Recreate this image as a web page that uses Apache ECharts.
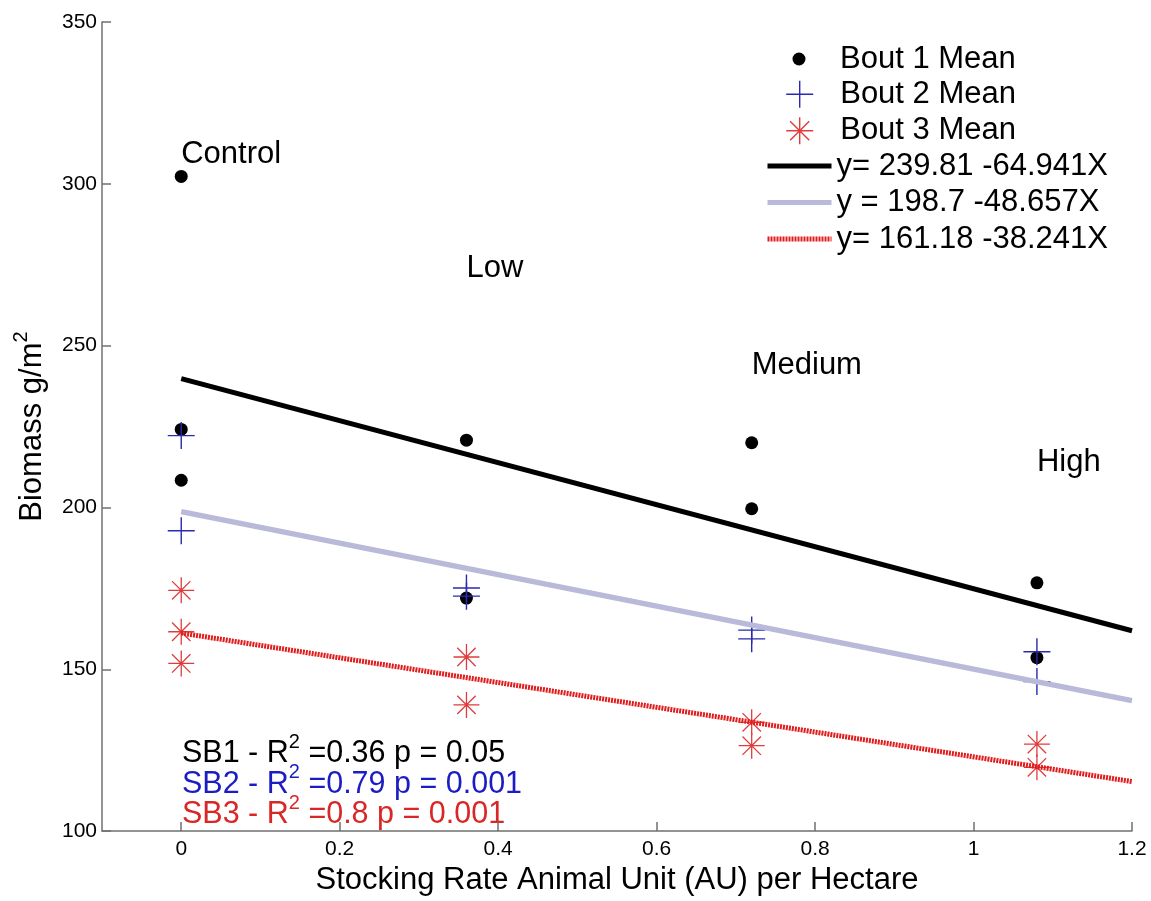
<!DOCTYPE html>
<html>
<head>
<meta charset="utf-8">
<title>Biomass vs stocking rate</title>
<script src="https://cdn.jsdelivr.net/npm/echarts@6/dist/echarts.min.js"></script>
<style>
  html, body { margin: 0; padding: 0; background: #fff; }
  #chart { width: 1151px; height: 901px; }
</style>
</head>
<body>
<div id="chart"></div>
<script>
  // group labels (stocking rate, label height)
  var groupNames = ['Control', 'Low', 'Medium', 'High']
  var groupRates = [0, 0.36, 0.72, 1.08]
  var groupLabelY = [309, 274, 244, 214]

  // bout means [stocking rate, biomass]
  var bout1Mean = [[0, 302.3], [0, 224.1], [0, 208.4], [0.36, 220.8], [0.36, 172], [0.72, 220], [0.72, 199.6], [1.08, 176.7], [1.08, 153.6]]
  var bout2Mean = [[0, 222.2], [0, 192.8], [0.36, 175.1], [0.36, 172.6], [0.72, 162.1], [0.72, 159.4], [1.08, 155.4], [1.08, 146.2]]
  var bout3Mean = [[0, 174.4], [0, 161.6], [0, 151.8], [0.36, 153.8], [0.36, 139], [0.72, 133.6], [0.72, 126.4], [1.08, 126.9], [1.08, 119.7]]

  // fitted lines, end points
  var fitX = [0, 1.2]
  var fit1Y = [239.8, 161.9]
  var fit2Y = [198.7, 140.3]
  var fit3Y = [161.2, 115.3]
  var fitNames = ['y= 239.81 -64.941X', 'y = 198.7 -48.657X', 'y= 161.18 -38.241X']

  var font = "'Liberation Sans', Arial, Helvetica, sans-serif"
  var plusPath = 'path://M0,5L10,5M5,0L5,10'
  var starPath = 'path://M5,0L5,10M0,5L10,5M1.46,1.46L8.54,8.54M1.46,8.54L8.54,1.46'
  var axisGrey = '#707070'

  function pairs(xs, ys) {
    return xs.map(function(x, i) { return [x, ys[i]] })
  }

  function sup(color) {
    // superscript 2, lifted above the cap height
    return { fill: color, color: color, fontFamily: font, fontSize: 20, height: 8, verticalAlign: 'top' }
  }

  var legendText = { fontFamily: font, fontSize: 31, color: '#000', lineHeight: 36 }

  var chart = echarts.init(document.getElementById('chart'))
  chart.setOption({
    animation: false,
    grid: { left: 102, right: 19, top: 22, bottom: 67 },
    legend: [
      {
        data: ['Bout 1 Mean'],
        orient: 'vertical', left: 792.5, top: 41, padding: 0,
        itemWidth: 13, itemHeight: 13, selectedMode: false,
        textStyle: Object.assign({ padding: [0, 0, 0, 29.5] }, legendText)
      },
      {
        data: ['Bout 2 Mean', 'Bout 3 Mean'],
        orient: 'vertical', left: 785.5, top: 76.3, padding: 0, itemGap: 0.5,
        itemWidth: 27, itemHeight: 27, selectedMode: false,
        itemStyle: { borderWidth: 1.4 },
        textStyle: Object.assign({ padding: [0, 0, 0, 22] }, legendText)
      },
      {
        data: fitNames,
        orient: 'vertical', left: 765, top: 148, padding: 0, itemGap: 0.5,
        itemWidth: 64, itemHeight: 6, selectedMode: false,
        itemStyle: { opacity: 0 },
        lineStyle: { width: 5 },
        textStyle: legendText
      }
    ],
    xAxis: {
      type: 'value',
      min: -0.1,
      max: 1.2,
      minInterval: 0.2,
      maxInterval: 0.2,
      name: 'Stocking Rate Animal Unit (AU) per Hectare',
      nameLocation: 'middle',
      nameGap: 30,
      nameTextStyle: { fontFamily: font, fontSize: 31, color: '#000' },
      axisLine: { onZero: false, lineStyle: { color: axisGrey, width: 1.5 } },
      axisTick: { inside: true, length: 9, lineStyle: { color: axisGrey, width: 1.5 } },
      axisLabel: {
        color: '#000', fontFamily: font, fontSize: 21, margin: 8, showMinLabel: false,
        formatter: function(v) { return v < 0 ? '' : String(v) }
      },
      splitLine: { show: false }
    },
    yAxis: {
      type: 'value',
      min: 100,
      max: 350,
      interval: 50,
      name: 'Biomass g/m{sup|2}',
      nameLocation: 'middle',
      nameGap: 54,
      nameTextStyle: {
        fontFamily: font, fontSize: 31, color: '#000', lineHeight: 31,
        rich: { sup: sup('#000') }
      },
      axisLine: { onZero: false, lineStyle: { color: axisGrey, width: 1.5 } },
      axisTick: { inside: true, length: 9, lineStyle: { color: axisGrey, width: 1.5 } },
      axisLabel: { color: '#000', fontFamily: font, fontSize: 21, margin: 5 },
      splitLine: { show: false }
    },
    graphic: [
      {
        type: 'text',
        left: 182,
        top: 732,
        silent: true,
        style: {
          text: '{b|SB1 - R}{bs|2}{b| =0.36 p = 0.05}\n' +
                '{u|SB2 - R}{us|2}{u| =0.79 p = 0.001}\n' +
                '{r|SB3 - R}{rs|2}{r| =0.8 p = 0.001}',
          fontFamily: font,
          fontSize: 30.5,
          rich: {
            b: { fill: '#000', fontFamily: font, fontSize: 30.5, lineHeight: 30.8 },
            bs: sup('#000'),
            u: { fill: '#1c1cc4', fontFamily: font, fontSize: 30.5, lineHeight: 30.8 },
            us: sup('#1c1cc4'),
            r: { fill: '#d92626', fontFamily: font, fontSize: 30.5, lineHeight: 30.8 },
            rs: sup('#d92626')
          }
        }
      }
    ],
    series: [
      {
        name: 'Bout 1 Mean',
        type: 'scatter',
        symbol: 'circle',
        symbolSize: 13,
        itemStyle: { color: '#000', opacity: 1 },
        data: bout1Mean
      },
      {
        name: 'Bout 2 Mean',
        type: 'scatter',
        symbol: plusPath,
        symbolSize: 27,
        itemStyle: { color: 'transparent', borderColor: '#2a2ab0', borderWidth: 1.4, opacity: 1 },
        data: bout2Mean
      },
      {
        name: 'Bout 3 Mean',
        type: 'scatter',
        symbol: starPath,
        symbolSize: 26,
        itemStyle: { color: 'transparent', borderColor: '#e03c3c', borderWidth: 1.3, opacity: 1 },
        data: bout3Mean
      },
      {
        name: fitNames[0],
        type: 'line',
        symbol: 'none',
        lineStyle: { color: '#000', width: 5 },
        itemStyle: { color: '#000' },
        data: pairs(fitX, fit1Y)
      },
      {
        name: fitNames[1],
        type: 'line',
        symbol: 'none',
        lineStyle: { color: '#b9b9da', width: 5.5 },
        itemStyle: { color: '#b9b9da' },
        data: pairs(fitX, fit2Y)
      },
      {
        name: fitNames[2],
        type: 'line',
        symbol: 'none',
        lineStyle: { color: '#e01c1c', width: 5, type: [2, 1] },
        itemStyle: { color: '#e01c1c' },
        data: pairs(fitX, fit3Y)
      },
      {
        name: 'groups',
        type: 'scatter',
        symbolSize: 0,
        silent: true,
        itemStyle: { opacity: 1 },
        label: {
          show: true,
          position: 'right',
          distance: 0,
          color: '#000',
          fontFamily: font,
          fontSize: 31,
          formatter: function(p) { return p.data[2] }
        },
        data: groupNames.map(function(n, i) { return [groupRates[i], groupLabelY[i], n] })
      }
    ]
  })
</script>
</body>
</html>
